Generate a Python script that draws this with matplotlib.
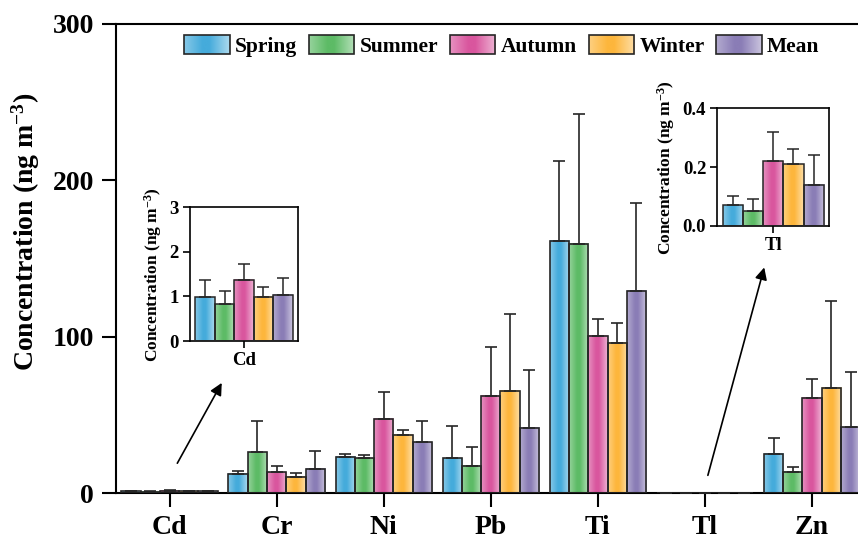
import numpy as np
import matplotlib
matplotlib.use("Agg")
import matplotlib.pyplot as plt
from matplotlib.patches import Patch, Rectangle
from matplotlib.legend_handler import HandlerBase
from matplotlib.image import BboxImage
from matplotlib.transforms import Bbox, TransformedBbox
from matplotlib.colors import to_rgb

plt.rcParams['font.family'] = ['Liberation Serif', 'DejaVu Serif']
plt.rcParams['font.weight'] = 'bold'
plt.rcParams['mathtext.fontset'] = 'custom'
plt.rcParams['mathtext.rm'] = 'Liberation Serif:bold'
plt.rcParams['mathtext.it'] = 'Liberation Serif:bold'
plt.rcParams['mathtext.bf'] = 'Liberation Serif:bold'

elements = ['Cd', 'Cr', 'Ni', 'Pb', 'Ti', 'Tl', 'Zn']
seasons = ['Spring', 'Summer', 'Autumn', 'Winter', 'Mean']
colors = ['#45abdb', '#5dbb66', '#d9569e', '#fdb63c', '#8a7db6']

# mean concentrations (ng m-3), one list per element, in season order
means = {
    'Cd': [0.98, 0.82, 1.37, 0.99, 1.04],
    'Cr': [12.2, 26.0, 13.4, 10.4, 15.5],
    'Ni': [23.2, 22.2, 47.5, 37.3, 32.6],
    'Pb': [22.2, 17.3, 62.1, 65.5, 41.6],
    'Ti': [161.2, 159.5, 100.6, 96.2, 129.4],
    'Tl': [0.07, 0.05, 0.22, 0.21, 0.14],
    'Zn': [25.1, 13.6, 61.0, 67.4, 42.0],
}
# standard deviations (upper error only)
sds = {
    'Cd': [0.39, 0.30, 0.36, 0.23, 0.36],
    'Cr': [1.9, 20.2, 4.1, 2.4, 11.6],
    'Ni': [1.5, 2.1, 16.9, 3.2, 13.5],
    'Pb': [20.7, 12.3, 31.5, 48.8, 37.1],
    'Ti': [51.0, 82.9, 10.7, 12.3, 55.9],
    'Tl': [0.03, 0.04, 0.10, 0.05, 0.10],
    'Zn': [10.1, 3.2, 12.1, 55.4, 35.6],
}

W = 0.18
EDGE = '#262626'


def grad_img(color):
    c = np.array(to_rgb(color))
    t = np.linspace(0, 1, 64)
    # lighter at the edges, full colour a bit left of centre
    light = np.interp(t, [0, 0.4, 0.55, 1], [0.35, 0.0, 0.0, 0.55])
    row = c[None, :] * (1 - light[:, None]) + light[:, None]
    return row[None, :, :]


def grad_bars(ax, x, h, color, lw=1.2):
    for xi, hi in zip(x, h):
        ax.imshow(grad_img(color), extent=[xi - W / 2, xi + W / 2, 0, hi],
                  aspect='auto', interpolation='bicubic', zorder=2)
    ax.bar(x, h, W, facecolor='none', edgecolor=EDGE, lw=lw, zorder=3)


class GradHandler(HandlerBase):
    def create_artists(self, legend, orig_handle, xdescent, ydescent,
                       width, height, fontsize, trans):
        bb = TransformedBbox(Bbox.from_bounds(-xdescent, -ydescent, width, height), trans)
        img = BboxImage(bb, interpolation='bicubic')
        img.set_data(grad_img(orig_handle.get_facecolor()))
        rect = Rectangle((-xdescent, -ydescent), width, height, facecolor='none',
                         edgecolor=EDGE, lw=1.2, transform=trans)
        return [img, rect]


def draw_group(ax, xc, el, cap=4.6, lw=1.2):
    for j in range(5):
        x = xc + (j - 2) * W
        grad_bars(ax, [x], [means[el][j]], colors[j], lw=lw)
        ax.errorbar([x], [means[el][j]], yerr=[[0], [sds[el][j]]], fmt='none',
                    ecolor=EDGE, elinewidth=lw, capsize=cap, capthick=lw, zorder=4)


fig = plt.figure(figsize=(8.58, 5.40), dpi=100)
ax = fig.add_axes([0.1352, 0.087, 0.8737, 0.8686])

xs = np.arange(len(elements))
for i, el in enumerate(elements):
    draw_group(ax, xs[i], el)

ax.set_xlim(-0.5, 6.5)
ax.set_ylim(0, 300)
ax.set_xticks(xs)
ax.set_xticklabels(elements, fontsize=20, fontweight='bold')
ax.set_yticks([0, 100, 200, 300])
ax.set_yticklabels(['0', '100', '200', '300'], fontsize=20, fontweight='bold')
ax.tick_params(direction='out', length=10, width=1.5, pad=6)
for s in ax.spines.values():
    s.set_linewidth(1.5)
ax.set_ylabel('Concentration (ng m$^{-3}$)', fontsize=20, fontweight='bold')
ax.yaxis.set_label_coords(-0.099, 0.556)

# arrows pointing to the insets
ax.annotate('', xy=(0.50, 72), xytext=(0.06, 17.5),
            arrowprops=dict(arrowstyle='-|>', color='k', lw=1.2, mutation_scale=18))
ax.annotate('', xy=(5.56, 146), xytext=(5.02, 9.6),
            arrowprops=dict(arrowstyle='-|>', color='k', lw=1.2, mutation_scale=18))

handles = [Patch(facecolor=c) for c in colors]
fig.legend(handles, seasons, handler_map={Patch: GradHandler()}, loc='center',
           bbox_to_anchor=(0.585, 0.915), ncol=5, frameon=False,
           prop={'size': 15.5, 'weight': 'bold'}, handlelength=2.1, handleheight=0.95,
           handletextpad=0.25, columnspacing=0.55)


def inset(rect, el, ylim, yticks, ylabels):
    ia = fig.add_axes(rect)
    draw_group(ia, 0, el, cap=4, lw=1.1)
    ia.set_xlim(-0.5, 0.5)
    ia.set_ylim(*ylim)
    ia.set_xticks([0])
    ia.set_xticklabels([el], fontsize=13.5, fontweight='bold')
    ia.set_yticks(yticks)
    ia.set_yticklabels(ylabels, fontsize=13.5, fontweight='bold')
    ia.tick_params(direction='out', length=5, width=1.2, pad=3)
    for s in ia.spines.values():
        s.set_linewidth(1.2)
    ia.set_ylabel('Concentration (ng m$^{-3}$)', fontsize=12.5, fontweight='bold', labelpad=4)
    return ia


inset([0.2214, 0.3685, 0.1259, 0.2481], 'Cd', (0, 3), [0, 1, 2, 3], ['0', '1', '2', '3'])
inset([0.836, 0.582, 0.1305, 0.2174], 'Tl', (0, 0.4), [0, 0.2, 0.4], ['0.0', '0.2', '0.4'])

fig.savefig('out.png', dpi=100)
